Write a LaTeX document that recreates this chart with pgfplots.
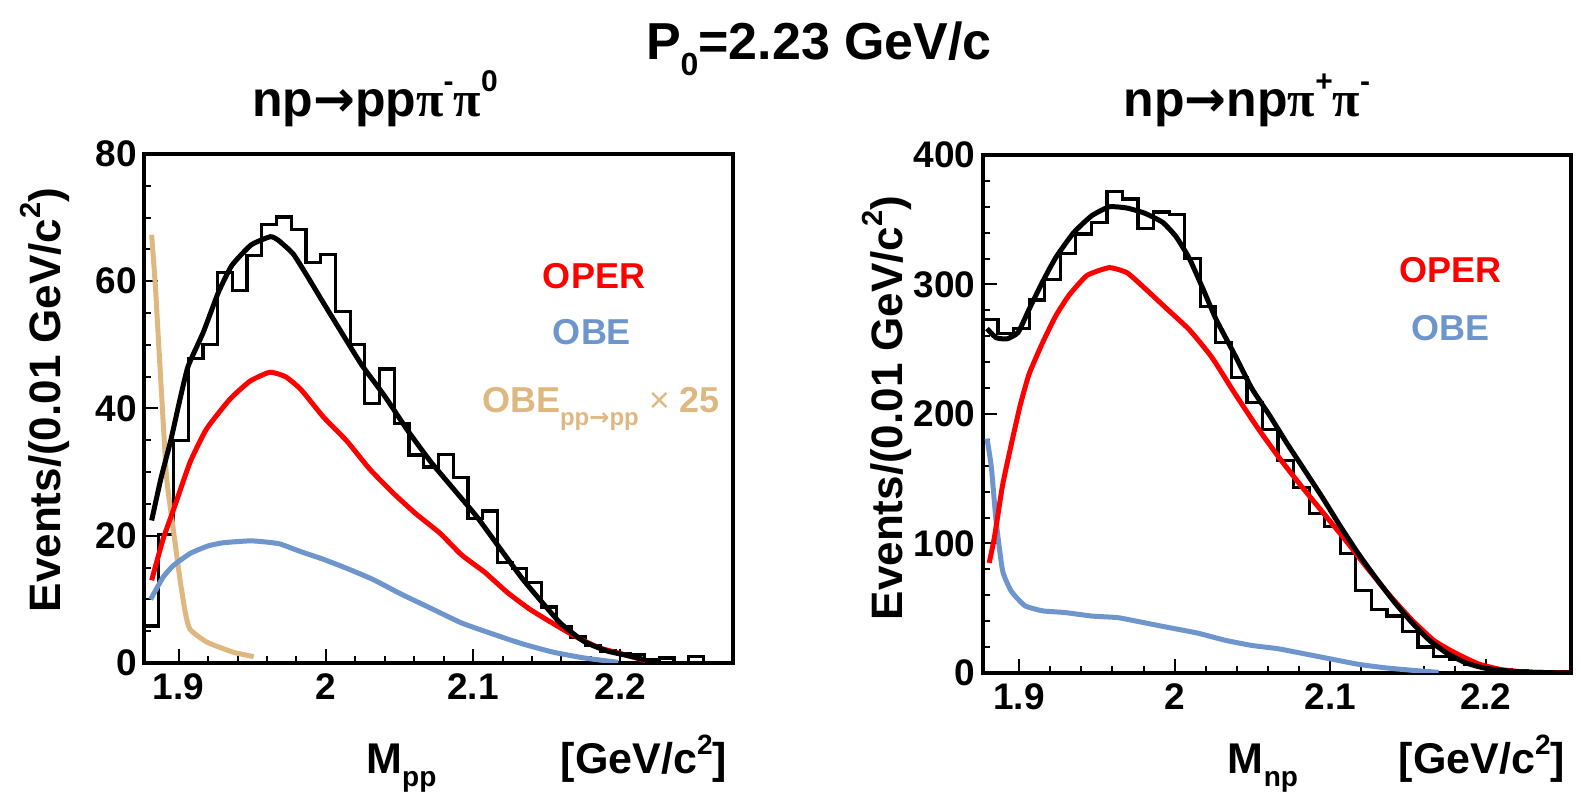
\documentclass[border=0pt]{standalone}
\usepackage{fontspec}
\setmainfont{Liberation Sans}
\newfontfamily\symb{Liberation Serif}
\newfontfamily\arr{DejaVu Sans}
\usepackage{pgfplots}
\pgfplotsset{compat=1.18}

\definecolor{oper}{RGB}{255,0,0}
\definecolor{obe}{RGB}{110,150,205}
\definecolor{obepp}{RGB}{222,184,128}

\newcommand{\sz}[1]{\fontsize{#1}{#1}\selectfont}

\pgfplotsset{
  rootax/.style={
    anchor=south west, scale only axis,
    axis line style={line width=2pt},
    tick align=inside, tick pos=left,
    major tick length=7pt, minor tick length=3.5pt,
    every tick/.style={black, line width=1pt},
    tick label style={font=\sz{18.5}\bfseries},
    xticklabel style={yshift=-2pt},
    /pgf/number format/assume math mode=true,
    xtick={1.9,2,2.1,2.2}, minor x tick num=4,
    ymin=0, xmin=1.8765,
  },
  histo/.style={const plot, black, line width=1.6pt},
  fit/.style={line width=2.5pt, smooth, tension=0.3},
}

\begin{document}
\begin{tikzpicture}
\useasboundingbox (0,0) rectangle (790.5pt,396pt);

% left: np -> pp pi- pi0
\begin{axis}[rootax, at={(72pt,64.5pt)}, width=294.5pt, height=254.5pt,
  xmax=2.2765, ymax=80, ytick={0,20,40,60,80}, minor y tick num=3]
\addplot[histo] table {
1.8765 5.8
1.8865 20.2
1.8965 35
1.9065 47.8
1.9165 50
1.9265 61.4
1.9365 58.6
1.9465 64.1
1.9565 68.9
1.9665 70.1
1.9765 68.1
1.9865 63
1.9965 64.2
2.0065 55.3
2.0165 50.1
2.0265 40.8
2.0365 46.2
2.0465 37.6
2.0565 32.7
2.0665 30.8
2.0765 32.8
2.0865 29.2
2.0965 22.7
2.1065 23.9
2.1165 15.8
2.1265 14.9
2.1365 12.7
2.1465 8.8
2.1565 5.7
2.1665 4.1
2.1765 2.7
2.1865 1.9
2.1965 1.5
2.2065 1.3
2.2165 0.6
2.2265 0.8
2.2365 0
2.2465 1
2.2565 0
2.2665 0
2.2765 0
};
\addplot[fit, obepp] table {
1.8817 67.3
1.8843 59
1.8865 50
1.8885 42
1.8919 29
1.8964 21
1.9009 13.2
1.9045 8
1.9077 5.3
1.9190 3.3
1.9370 1.7
1.9510 1.0
};
\addplot[fit, obe] table {
1.8810 10
1.8895 13.5
1.8964 15.3
1.9077 17.2
1.9200 18.4
1.9304 18.9
1.9485 19.2
1.9600 19
1.9690 18.7
1.9830 17.5
1.9983 16.3
2.0150 14.8
2.0323 13.1
2.0505 10.9
2.0713 8.6
2.0921 6.3
2.1128 4.6
2.1336 3.0
2.1544 1.7
2.1752 0.8
2.1986 0.1
};
\addplot[fit, oper] table {
1.8817 13
1.8895 19.5
1.8964 24
1.9077 31.5
1.9190 36.8
1.9350 41.5
1.9485 44.3
1.9620 45.7
1.9726 45
1.9830 43
1.9986 38.6
2.0142 34.9
2.0297 30.5
2.0453 26.8
2.0609 23.5
2.0775 20.4
2.0921 17
2.1077 14.3
2.1232 11.1
2.1388 8.4
2.1544 6.2
2.1700 4.1
2.1856 2.4
2.2012 1.4
2.2167 0.4
};
\addplot[fit, black] table {
1.8817 22.4
1.8880 29
1.8947 35
1.9005 41
1.9064 46.6
1.9168 52
1.9271 58.3
1.9362 62.5
1.9492 65.7
1.9622 67
1.9674 66.5
1.9778 64.3
1.9882 60.5
1.9986 56.5
2.0116 51.6
2.0245 46.8
2.0401 41.9
2.0557 36.5
2.0713 31.6
2.0869 27.3
2.1025 23
2.1180 18.1
2.1336 13.2
2.1492 8.9
2.1596 6.2
2.1752 3.4
2.1908 1.9
2.2064 1.1
2.2169 0.5
};
\end{axis}

% right: np -> np pi+ pi-
\begin{axis}[rootax, at={(491.25pt,59.5pt)}, width=294pt, height=259pt,
  xmax=2.2545, ymax=400, ytick={0,100,200,300,400}, minor y tick num=4]
\addplot[histo] table {
1.8765 273
1.8865 262
1.8965 266
1.9065 288
1.9165 304
1.9265 324
1.9365 339
1.9465 348
1.9565 372
1.9665 366
1.9765 343
1.9865 356
1.9965 354
2.0065 320
2.0165 283
2.0265 255
2.0365 228
2.0465 209
2.0565 188
2.0665 164
2.0765 143
2.0865 123
2.0965 113
2.1065 92
2.1165 64
2.1265 49
2.1365 44
2.1465 32
2.1565 20
2.1665 13
2.1765 10.7
2.1865 6.7
2.1965 4
2.2065 2.7
2.2165 1.5
2.2265 1
2.2365 0.5
2.2465 0
2.2565 0
};
\addplot[fit, obe] table {
1.8794 181
1.8822 159
1.8851 119
1.8894 79
1.8951 63
1.9037 52
1.9151 48
1.9294 46.7
1.9466 44
1.9637 42.7
1.9809 38.7
1.9980 34.7
2.0152 30.7
2.0324 25.3
2.0495 21.3
2.0667 18.7
2.0839 14.7
2.1010 10.7
2.1182 6.7
2.1354 4
2.1525 2.1
2.1697 0.5
};
\addplot[fit, oper] table {
1.8808 85
1.8842 105
1.8894 145
1.8951 177
1.9008 207
1.9065 231
1.9151 255
1.9237 276
1.9323 292
1.9437 307
1.9580 313
1.9695 309
1.9809 297
1.9952 281
2.0095 265
2.0238 244
2.0381 217
2.0524 191
2.0667 167
2.0810 145
2.0953 124
2.1096 103
2.1239 81
2.1382 60
2.1525 41
2.1668 25
2.1811 15
2.1954 7
2.2097 2.7
2.2240 0.8
2.2400 0.3
2.2540 0.2
};
\addplot[fit, black] table {
1.8794 266
1.8851 259
1.8922 258
1.8994 263
1.9065 281
1.9151 302
1.9237 321
1.9351 340
1.9466 353
1.9580 360
1.9695 359
1.9809 355
1.9923 348
2.0009 337
2.0095 320
2.0181 297
2.0267 273
2.0381 247
2.0495 220
2.0610 199
2.0724 177
2.0839 156
2.0953 135
2.1067 113
2.1182 92
2.1296 73
2.1411 55
2.1525 39
2.1640 25
2.1754 15
2.1868 8
2.1983 4
2.2097 2.1
2.2240 0.8
2.2440 0.2
2.2540 0
};
\end{axis}

% titles
\node[anchor=base, font=\sz{26}\bfseries] at (409.5pt,366pt)
  {P\raisebox{-0.3em}{\sz{16}0}=2.23 GeV/c};
\node[anchor=base, font=\sz{25}\bfseries] at (187.5pt,337.5pt)
  {np{\arr\bfseries →}pp{\symb π}\raisebox{0.5em}{\sz{15}-}{\symb π}\raisebox{0.5em}{\sz{15}0}};
\node[anchor=base, font=\sz{25}\bfseries] at (623.5pt,337.5pt)
  {np{\arr\bfseries →}np{\symb π}\raisebox{0.5em}{\sz{15}+}{\symb π}\raisebox{0.5em}{\sz{15}-}};

% axis titles
\node[rotate=90, anchor=base, font=\sz{22}\bfseries] at (30pt,196pt)
  {Events/(0.01 GeV/c\raisebox{0.45em}{\sz{14.5}2})};
\node[rotate=90, anchor=base, font=\sz{22}\bfseries] at (451pt,192pt)
  {Events/(0.01 GeV/c\raisebox{0.45em}{\sz{14.5}2})};
\node[anchor=base, font=\sz{21.5}\bfseries] at (200.7pt,9pt)
  {M\raisebox{-0.3em}{\sz{14}pp}};
\node[anchor=base east, font=\sz{21.5}\bfseries] at (367pt,9pt)
  {[GeV/c\raisebox{0.45em}{\sz{14}2}]};
\node[anchor=base, font=\sz{21.5}\bfseries] at (631.5pt,9pt)
  {M\raisebox{-0.3em}{\sz{14}np}};
\node[anchor=base east, font=\sz{21.5}\bfseries] at (786pt,9pt)
  {[GeV/c\raisebox{0.45em}{\sz{14}2}]};

% curve labels
\node[font=\sz{18}\bfseries, text=oper] at (297pt,258pt) {OPER};
\node[font=\sz{18}\bfseries, text=obe] at (296pt,230pt) {OBE};
\node[anchor=west, font=\sz{18}\bfseries, text=obepp] at (237.5pt,191.5pt)
  {OBE\raisebox{-0.35em}{\sz{12}pp{\arr →}pp} {\mdseries ×} 25};
\node[font=\sz{18}\bfseries, text=oper] at (725pt,261pt) {OPER};
\node[font=\sz{18}\bfseries, text=obe] at (725pt,232pt) {OBE};
\end{tikzpicture}
\end{document}
